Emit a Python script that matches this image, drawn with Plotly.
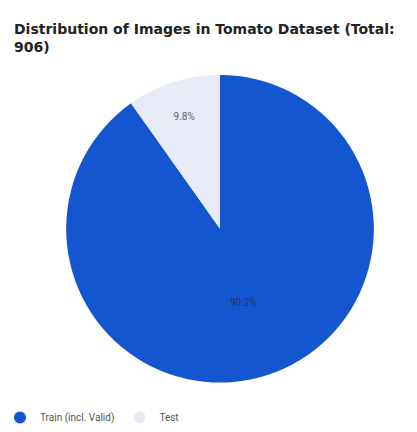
import plotly.graph_objects as go

labels = ["Train (incl. Valid)", "Test"]
counts = [817, 89]
colors = ["#1456CF", "#E8EAF6"]
title_text = "<b>Distribution of Images in Tomato Dataset (Total:<br>906)</b>"

W, H = 417, 432

fig = go.Figure()
fig.add_trace(go.Pie(
    labels=labels,
    values=counts,
    marker=dict(colors=colors, line=dict(width=0)),
    sort=False,
    direction="clockwise",
    rotation=0,
    textinfo="percent",
    texttemplate="%{percent:.1%}",
    textposition="inside",
    insidetextorientation="horizontal",
    textfont=dict(family="Roboto, Arial, sans-serif", size=10, color=["#27346a", "#666666"]),
    showlegend=False,
    domain=dict(x=[56 / W, 384 / W], y=[(H - 388) / H, (H - 76) / H]),
    hoverinfo="label+percent+value",
))

for lab, col in zip(labels, colors):
    fig.add_trace(go.Scatter(
        x=[None], y=[None], mode="markers", name=lab,
        marker=dict(symbol="circle", size=8, color=col),
        showlegend=True,
    ))

fig.update_layout(
    width=W, height=H,
    margin=dict(l=0, r=0, t=0, b=0),
    paper_bgcolor="white",
    plot_bgcolor="white",
    title=dict(
        text=title_text,
        x=14 / W, xanchor="left",
        y=1 - 34 / H, yanchor="top",
        font=dict(family="DejaVu Sans, Verdana, sans-serif", size=14, color="#222222"),
    ),
    xaxis=dict(visible=False),
    yaxis=dict(visible=False),
    legend=dict(
        orientation="h",
        x=0, xanchor="left",
        y=-6 / H, yanchor="bottom",
        font=dict(family="Roboto, Arial, sans-serif", size=10, color="#555555"),
        itemsizing="constant",
        itemwidth=30,
        bgcolor="rgba(0,0,0,0)",
    ),
)

fig.write_html("out.html")
